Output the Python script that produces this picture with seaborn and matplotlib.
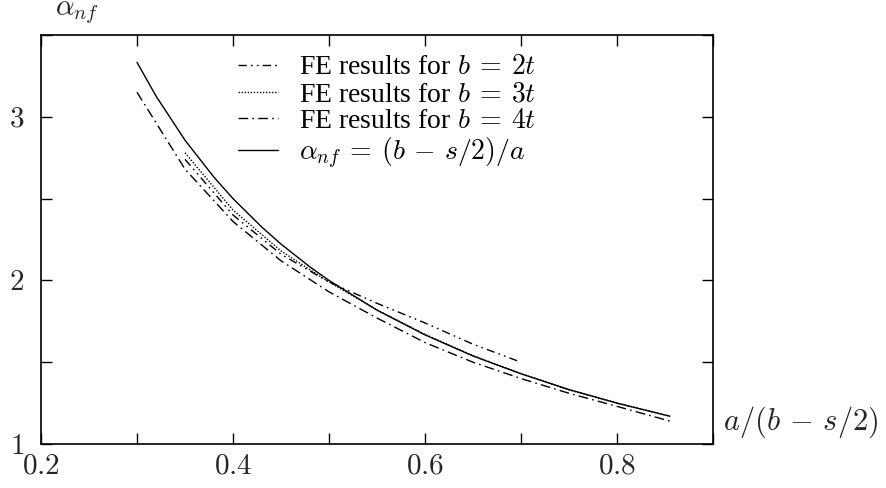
import matplotlib
matplotlib.use("Agg")
import matplotlib.pyplot as plt
import seaborn as sns
import pandas as pd
from matplotlib.ticker import MultipleLocator, FixedLocator

sns.set_style("ticks")
plt.rcParams["font.family"] = ["Liberation Serif", "DejaVu Serif"]
plt.rcParams["mathtext.fontset"] = "cm"

# b = 2t (dash-dot-dot)
x_b2 = [0.35, 0.40, 0.45, 0.50, 0.55, 0.60, 0.65, 0.70]
y_b2 = [2.74, 2.40, 2.16, 1.99, 1.86, 1.74, 1.61, 1.50]
# b = 3t (dotted)
x_b3 = [0.35, 0.40, 0.45, 0.50, 0.55, 0.60, 0.65, 0.70, 0.75, 0.80, 0.855]
y_b3 = [2.78, 2.43, 2.18, 1.99, 1.82, 1.67, 1.54, 1.43, 1.33, 1.25, 1.17]
# b = 4t (dash-dot)
x_b4 = [0.30, 0.35, 0.40, 0.45, 0.50, 0.55, 0.60, 0.65, 0.70, 0.75, 0.80, 0.855]
y_b4 = [3.15, 2.68, 2.36, 2.12, 1.93, 1.77, 1.62, 1.50, 1.40, 1.31, 1.23, 1.14]
# analytical alpha_nf = (b - s/2)/a
x_an = [0.30, 0.32, 0.35, 0.38, 0.40, 0.43, 0.45, 0.48, 0.50, 0.55, 0.60, 0.65, 0.70, 0.75, 0.80, 0.855]
y_an = [3.333, 3.125, 2.857, 2.632, 2.500, 2.326, 2.222, 2.083, 2.000, 1.818, 1.667, 1.538, 1.429, 1.333, 1.250, 1.170]

labels = [r"FE results for $b\:=\:2t$", r"FE results for $b\:=\:3t$",
          r"FE results for $b\:=\:4t$", r"$\alpha_{nf}\:=\:(b\,-\,s/2)/a$"]
xticks = [0.2, 0.4, 0.6, 0.8]
yticks = [1, 2, 3]

fig = plt.figure(figsize=(8.87, 4.88), dpi=100)
ax = fig.add_axes([41/887, 1-444/488, (713-41)/887, (444-35)/488])

series = [(x_b2, y_b2, (6, 3, 1.2, 3, 1.2, 3)),
          (x_b3, y_b3, (1, 1.2)),
          (x_b4, y_b4, (7, 3, 1.2, 3)),
          (x_an, y_an, None)]
for (xs, ys, dash), lab in zip(series, labels):
    df = pd.DataFrame({"x": xs, "y": ys})
    sns.lineplot(data=df, x="x", y="y", ax=ax, color="black", lw=1.0,
                 label=lab, sort=False, estimator=None)
    l = ax.get_lines()[-1]
    if dash is not None:
        l.set_dashes(dash)

ax.set_xlim(0.2, 0.9)
ax.set_ylim(1, 3.5)
ax.xaxis.set_major_locator(FixedLocator(xticks))
ax.xaxis.set_minor_locator(MultipleLocator(0.1))
ax.yaxis.set_major_locator(FixedLocator(yticks))
ax.yaxis.set_minor_locator(MultipleLocator(0.5))
ax.set_xticklabels([f"${v:.1f}$" for v in xticks], fontsize=21)
ax.set_yticklabels([f"${v}$" for v in yticks], fontsize=21)
for which in ("major", "minor"):
    ax.tick_params(axis="both", which=which, direction="in", length=8, width=1,
                   top=True, right=True, color="black")
ax.tick_params(axis="x", pad=7)
ax.tick_params(axis="y", pad=12)
for sp in ax.spines.values():
    sp.set_visible(True)
    sp.set_linewidth(1.2)
    sp.set_color("black")
ax.set_xlabel("")
ax.set_ylabel("")

fig.text(55/887, 1-13/488, r"$\alpha_{nf}$", fontsize=21, ha="left", va="center")
fig.text(723/887, 1-422/488, r"$a/(b\,-\,s/2)$", fontsize=22, ha="left", va="center")

leg = ax.legend(loc="upper left", bbox_to_anchor=((238-41)/672, 1 - (20)/409),
                frameon=False, fontsize=20, handlelength=1.45, handletextpad=0.75,
                labelspacing=0.05, borderpad=0.0, borderaxespad=0.0)
for t in leg.get_texts():
    t.set_color("black")

fig.savefig("out.png", dpi=100)
